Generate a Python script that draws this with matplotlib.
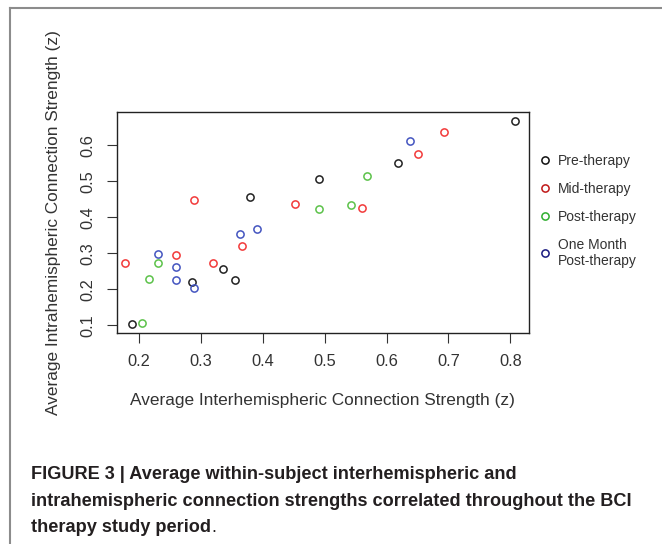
import matplotlib
matplotlib.use("Agg")
import matplotlib.pyplot as plt
from matplotlib.lines import Line2D
import numpy as np

# datos (x = inter, y = intra)
pre_x = [0.188, 0.285, 0.336, 0.355, 0.379, 0.491, 0.619, 0.8075]
pre_y = [0.103, 0.220, 0.256, 0.225, 0.456, 0.505, 0.551, 0.668]

mid_x = [0.177, 0.260, 0.289, 0.319, 0.366, 0.452, 0.560, 0.6505, 0.6935]
mid_y = [0.272, 0.294, 0.447, 0.272, 0.319, 0.436, 0.425, 0.575, 0.636]

post_x = [0.205, 0.215, 0.231, 0.491, 0.5425, 0.569]
post_y = [0.107, 0.228, 0.272, 0.422, 0.433, 0.516]

month_x = [0.230, 0.259, 0.259, 0.289, 0.363, 0.390, 0.638]
month_y = [0.299, 0.261, 0.225, 0.203, 0.354, 0.368, 0.613]

grupos = ["Pre-therapy", "Mid-therapy", "Post-therapy", "One Month\nPost-therapy"]
colores = ["#222222", "#f23a3a", "#5cc24a", "#4455c0"]
colores_leyenda = ["#111111", "#c01818", "#2fae2f", "#1a1a80"]

caption_lineas = ["FIGURE 3 | Average within-subject interhemispheric and",
                  "intrahemispheric connection strengths correlated throughout the BCI",
                  "therapy study period"]

plt.rcParams['font.family'] = ['Liberation Sans', 'DejaVu Sans']
texto = "#333333"

fig = plt.figure(figsize=(6.62, 5.44), dpi=100)
ax = fig.add_axes([0.1763, 0.3884, 0.6228, 0.4063])

datos = [(pre_x, pre_y), (mid_x, mid_y), (post_x, post_y), (month_x, month_y)]
for (xs, ys), c in zip(datos, colores):
    ax.plot(xs, ys, 'o', mfc='none', mec=c, ms=5.2, mew=1.1)

ax.set_xlim(0.1635, 0.8302)
ax.set_ylim(0.0794, 0.6933)
ax.set_xticks([0.2, 0.3, 0.4, 0.5, 0.6, 0.7, 0.8])
ax.set_yticks([0.1, 0.2, 0.3, 0.4, 0.5, 0.6])
ax.tick_params(length=7, width=0.8, color="#333333", labelsize=11.8,
               labelcolor=texto, pad=8.5)
for lab in ax.get_yticklabels():
    lab.set_rotation(90)
    lab.set_va('center')
for s in ax.spines.values():
    s.set_color("#222222")
    s.set_linewidth(1.0)

ax.set_xlabel("Average Interhemispheric Connection Strength (z)", fontsize=12.4,
              color=texto, labelpad=17)
ax.set_ylabel("Average Intrahemispheric Connection Strength (z)", fontsize=12.4,
              color=texto, labelpad=14)

# leyenda
handles = [Line2D([], [], ls='none', marker='o', mfc='none', mec=c, ms=5.2, mew=1.1)
           for c in colores_leyenda]
fig.legend(handles, grupos, loc='upper left', bbox_to_anchor=(0.792, 0.74),
           frameon=False, fontsize=10, labelcolor=texto, labelspacing=1.0,
           handletextpad=0.3, handlelength=1.2)

# marco de la figura
fig.add_artist(Line2D([10 / 662, 1.0], [1 - 7.5 / 544, 1 - 7.5 / 544],
                      transform=fig.transFigure, color="#8c8c8c", lw=1.5))
fig.add_artist(Line2D([10 / 662, 10 / 662], [0, 1 - 7.5 / 544],
                      transform=fig.transFigure, color="#8c8c8c", lw=1.5))

# pie de figura, una linea cada vez
for i, linea in enumerate(caption_lineas):
    t = fig.text(31 / 662, 1 - (479 + 26.5 * i) / 544, linea, ha='left',
                 va='baseline', fontsize=13.1, fontweight='bold', color="#231f20")

# punto final sin negrita
fig.canvas.draw()
bb = t.get_window_extent()
fig.text(bb.x1 / fig.bbox.width + 0.001, 1 - (479 + 26.5 * 2) / 544, ".",
         ha='left', va='baseline', fontsize=13.1, color="#231f20")

fig.savefig("out.png", dpi=100)
